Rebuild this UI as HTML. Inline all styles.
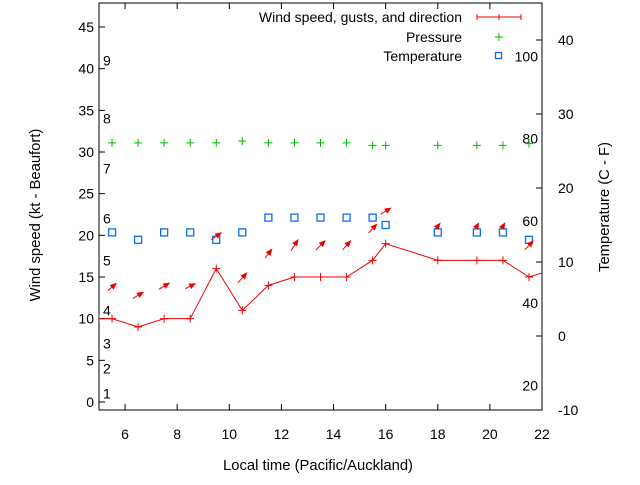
<!DOCTYPE html>
<html><head><meta charset="utf-8"><style>
body{margin:0;background:#fff;}
svg{font-family:"Liberation Sans",sans-serif;font-size:14px;}
.title{font-size:14.8px;}
</style></head><body>
<svg id="chart" width="640" height="480" xmlns="http://www.w3.org/2000/svg">
<defs><clipPath id="clip"><rect x="99" y="3" width="443" height="407"/></clipPath></defs>
<g id="axes"></g>
<g id="plot" clip-path="url(#clip)"></g>
<g id="legend"></g>
<text class="title" x="40" y="215" text-anchor="middle" transform="rotate(-90 40 215)">Wind speed (kt - Beaufort)</text>
<text class="title" x="609" y="207" text-anchor="middle" transform="rotate(-90 609 207)">Temperature (C - F)</text>
<text class="title" x="318" y="470" text-anchor="middle">Local time (Pacific/Auckland)</text>
</svg>
<script>
const windHours = [5, 5.5, 6.5, 7.5, 8.5, 9.5, 10.5, 11.5, 12.5, 13.5, 14.5, 15.5, 16, 18, 19.5, 20.5, 21.5, 22.5];
const windSpeed = [10, 10, 9, 10, 10, 16, 11, 14, 15, 15, 15, 17, 19, 17, 17, 17, 15, 16];
const obsHours = [5.5, 6.5, 7.5, 8.5, 9.5, 10.5, 11.5, 12.5, 13.5, 14.5, 15.5, 16, 18, 19.5, 20.5, 21.5];
const pressure = [31.1, 31.1, 31.1, 31.1, 31.1, 31.3, 31.1, 31.1, 31.1, 31.1, 30.8, 30.8, 30.8, 30.8, 30.8, 31.0];
const temperature = [14, 13, 14, 14, 13, 14, 16, 16, 16, 16, 16, 15, 14, 14, 14, 13];
const gust = [13.8, 12.8, 13.9, 13.9, 19.9, 14.9, 17.8, 18.8, 18.8, 18.8, 20.8, 22.9, 21.1, 21.1, 21.1, 18.8];
const windDirAngle = [41, 31, 31, 27, 35, 48, 52, 57, 45, 48, 48, 31, 51, 59, 59, 48];
const arrowLen = [11, 12, 12, 11, 12, 13, 11, 13, 13, 12, 12, 12, 7, 7, 7, 12];
const xTicks = [6, 8, 10, 12, 14, 16, 18, 20, 22];
const yTicks = [0, 5, 10, 15, 20, 25, 30, 35, 40, 45];
const y2Ticks = [-10, 0, 10, 20, 30, 40];
const beaufort = [[1, 1], [2, 4], [3, 7], [4, 11], [5, 17], [6, 22], [7, 28], [8, 34], [9, 41]];
const fahrenheit = [20, 40, 60, 80, 100];

const X = h => 99 + (h - 5) * 26.06;
const Y = v => 402 - v * 8.333;
const Y2 = t => 336 - t * 7.4;
const NS = "http://www.w3.org/2000/svg";
function mk(parent, tag, attrs, text) {
  const e = document.createElementNS(NS, tag);
  for (const k in attrs) e.setAttribute(k, attrs[k]);
  if (text !== undefined) e.textContent = text;
  document.getElementById(parent).appendChild(e);
  return e;
}
let el;
el = mk("axes", "rect", {x: 99, y: 3, width: 443, height: 407, fill: "none", stroke: "#000", "stroke-width": 1});


xTicks.forEach(t => {
  const x = X(t);
  mk("axes", "path", {d: `M${x} 410v-6M${x} 3v6`, stroke: "#000"});
  el = mk("axes", "text", {x: x, y: 439, "text-anchor": "middle"}, t);
  
  
});
yTicks.forEach(t => {
  const y = Y(t);
  mk("axes", "path", {d: `M99 ${y}h6`, stroke: "#000"});
  el = mk("axes", "text", {x: 94, y: y + 5, "text-anchor": "end"}, t);
  
  
});
y2Ticks.forEach(t => {
  const y = Y2(t);
  mk("axes", "path", {d: `M542 ${y}h-6`, stroke: "#000"});
  el = mk("axes", "text", {x: 558, y: y + 5, "text-anchor": "start"}, t);
  
  
});
beaufort.forEach(b => {
  el = mk("axes", "text", {x: 103, y: Y(b[1]) + 5}, b[0]);
  
  
});
fahrenheit.forEach(f => {
  el = mk("axes", "text", {x: 538, y: Y2((f - 32) / 1.8) + 5, "text-anchor": "end"}, f);
  
  
});
let d = windHours.map((h, i) => (i ? "L" : "M") + X(h) + " " + Y(windSpeed[i])).join("");
el = mk("plot", "path", {d: d, fill: "none", stroke: "#e00", "stroke-width": 1});


windHours.forEach((h, i) => {
  const x = X(h), y = Y(windSpeed[i]);
  el = mk("plot", "path", {d: `M${x - 4} ${y}h8M${x} ${y - 4}v8`, stroke: "#e00"});
  
  
});
obsHours.forEach((h, i) => {
  const x = X(h), y = Y(pressure[i]);
  el = mk("plot", "path", {d: `M${x - 4} ${y}h8M${x} ${y - 4}v8`, stroke: "#0b0"});
  
  
  const ty = Y2(temperature[i]);
  el = mk("plot", "rect", {x: x - 3.5, y: ty - 3.5, width: 7, height: 7, fill: "none", stroke: "#0a6ef0", "stroke-width": 1.3});
  
  
  const a = windDirAngle[i] * Math.PI / 180, L = arrowLen[i];
  const cx = x, cy = Y(gust[i]);
  const dx = Math.cos(a) * L / 2, dy = -Math.sin(a) * L / 2;
  const hx = cx + dx, hy = cy + dy;
  const ux = dx / (L / 2), uy = dy / (L / 2);
  const px = -uy, py = ux;
  el = mk("plot", "path", {d: `M${cx - dx} ${cy - dy}L${hx} ${hy}`, stroke: "#e00", "stroke-width": 1});
  
  
  mk("plot", "path", {d: `M${hx + ux} ${hy + uy}L${hx - ux * 6 + px * 3} ${hy - uy * 6 + py * 3}L${hx - ux * 6 - px * 3} ${hy - uy * 6 - py * 3}Z`, fill: "#e00"});
});
el = mk("legend", "text", {x: 462, y: 22, "text-anchor": "end"}, "Wind speed, gusts, and direction");


mk("legend", "path", {d: "M477 17h44M477 14v6M521 14v6M499 14v6", stroke: "#e00"});
el = mk("legend", "text", {x: 462, y: 42, "text-anchor": "end"}, "Pressure");


mk("legend", "path", {d: "M495 37h8M499 33v8", stroke: "#0b0"});
el = mk("legend", "text", {x: 462, y: 61, "text-anchor": "end"}, "Temperature");


mk("legend", "rect", {x: 495.5, y: 52.5, width: 6, height: 6, fill: "none", stroke: "#0a6ef0", "stroke-width": 1.3});
</script>
</body></html>
